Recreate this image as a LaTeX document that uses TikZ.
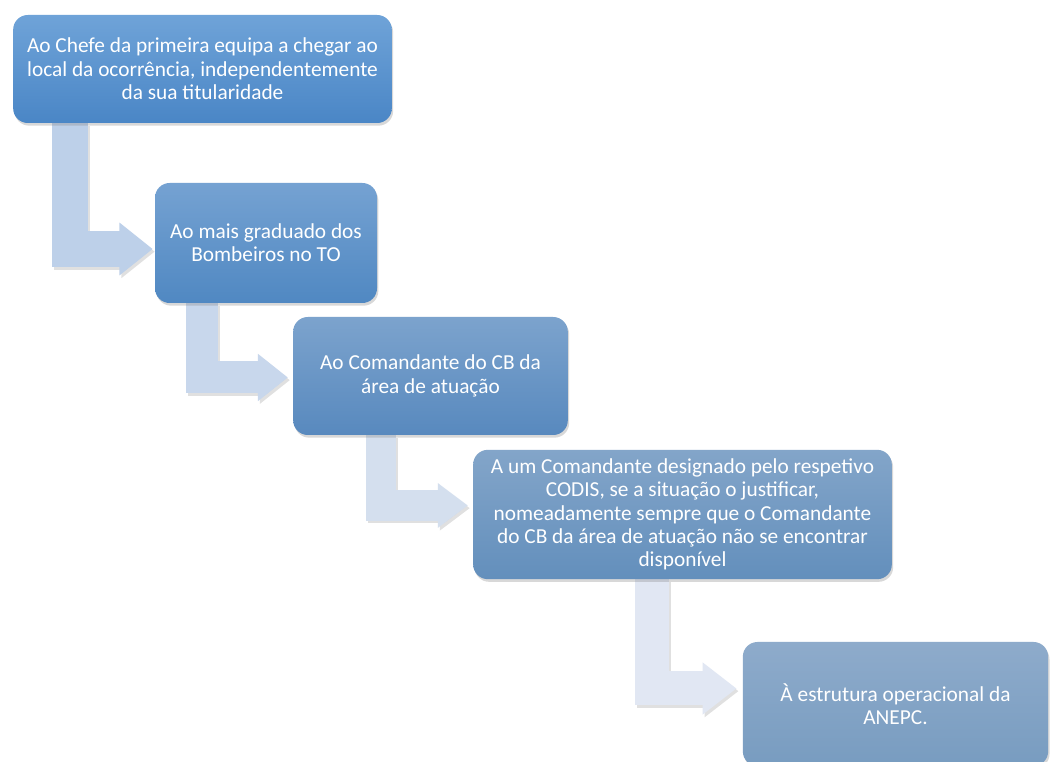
\documentclass[tikz,border=0pt]{standalone}
\usepackage{fontspec}
\setmainfont{Carlito}
\usetikzlibrary{arrows.meta,calc,shadows,backgrounds}
\definecolor{boxAtop}{HTML}{6FA3D8}\definecolor{boxAbot}{HTML}{4A86C6}
\definecolor{boxBtop}{HTML}{75A2D2}\definecolor{boxBbot}{HTML}{5088C2}
\definecolor{boxCtop}{HTML}{7CA3CD}\definecolor{boxCbot}{HTML}{5889BE}
\definecolor{boxDtop}{HTML}{83A5C9}\definecolor{boxDbot}{HTML}{638FBC}
\definecolor{boxEtop}{HTML}{8EABCB}\definecolor{boxEbot}{HTML}{789CC0}
\definecolor{arrA}{HTML}{BDD0E9}
\definecolor{arrB}{HTML}{C8D7EC}
\definecolor{arrC}{HTML}{D4DFEE}
\definecolor{arrD}{HTML}{E1E7F3}
\tikzstyle{box} = [rectangle, rounded corners=11pt, align=center, text=white, font=\fontsize{16}{17.5}\selectfont, drop shadow={opacity=0.3,shadow xshift=1pt,shadow yshift=-2pt}]
\tikzstyle{bentarrow} = [line join=miter, line cap=butt]
\tikzstyle{bentshadow} = [bentarrow, draw=black, opacity=0.12, transform canvas={shift={(1.5pt,-2pt)}}]

\begin{document}
\begin{tikzpicture}[x=0.75pt, y=-0.75pt]
\useasboundingbox (0,0) rectangle (1051,762);

% steps
\path (202.5,69) node (chefe) [box, minimum width=284pt, minimum height=81pt, top color=boxAtop, bottom color=boxAbot] {Ao Chefe da primeira equipa a chegar ao\\local da ocorrência, independentemente\\da sua titularidade};
\path (266,243) node (graduado) [box, minimum width=166.5pt, minimum height=90pt, top color=boxBtop, bottom color=boxBbot] {Ao mais graduado dos\\Bombeiros no TO};
\path (430.5,376) node (comandante) [box, minimum width=206pt, minimum height=88.5pt, top color=boxCtop, bottom color=boxCbot] {Ao Comandante do CB da\\área de atuação};
\path (682.5,514.5) node (codis) [box, minimum width=314pt, minimum height=97pt, top color=boxDtop, bottom color=boxDbot] {A um Comandante designado pelo respetivo\\CODIS, se a situação o justificar,\\nomeadamente sempre que o Comandante\\do CB da área de atuação não se encontrar\\disponível};
\path (895.5,704) node (anepc) [box, minimum width=229pt, minimum height=93pt, top color=boxEtop, bottom color=boxEbot] {À estrutura operacional da\\ANEPC.};

% bend points of the arrows
\coordinate (s1) at ($(graduado.west)+(-85,0)$);
\coordinate (t1) at ($(graduado.west)+(-2,6)$);
\coordinate (s2) at ($(comandante.west)+(-91,0)$);
\coordinate (t2) at ($(comandante.west)+(-5,1.5)$);
\coordinate (s3) at ($(codis.west)+(-92,0)$);
\coordinate (t3) at ($(codis.west)+(-5,-9)$);
\coordinate (s4) at ($(anepc.west)+(-90.5,0)$);
\coordinate (t4) at ($(anepc.west)+(-6,-15.5)$);

\begin{pgfonlayer}{background}
\fill[white] (0,0) rectangle (1051,762);
\draw [bentshadow, line width=27pt, -{Triangle[length=25pt,width=38pt]}] (chefe.south -| s1) |- (t1);
\draw [bentarrow, draw=arrA, line width=27pt, -{Triangle[length=25pt,width=38pt]}] (chefe.south -| s1) |- (t1);
\draw [bentshadow, line width=24pt, -{Triangle[length=22.5pt,width=34pt]}] (graduado.south -| s2) |- (t2);
\draw [bentarrow, draw=arrB, line width=24pt, -{Triangle[length=22.5pt,width=34pt]}] (graduado.south -| s2) |- (t2);
\draw [bentshadow, line width=23pt, -{Triangle[length=22.5pt,width=32pt]}] (comandante.south -| s3) |- (t3);
\draw [bentarrow, draw=arrC, line width=23pt, -{Triangle[length=22.5pt,width=32pt]}] (comandante.south -| s3) |- (t3);
\draw [bentshadow, line width=25.5pt, -{Triangle[length=25.5pt,width=37.5pt]}] (codis.south -| s4) |- (t4);
\draw [bentarrow, draw=arrD, line width=25.5pt, -{Triangle[length=25.5pt,width=37.5pt]}] (codis.south -| s4) |- (t4);
\end{pgfonlayer}
\end{tikzpicture}
\end{document}
